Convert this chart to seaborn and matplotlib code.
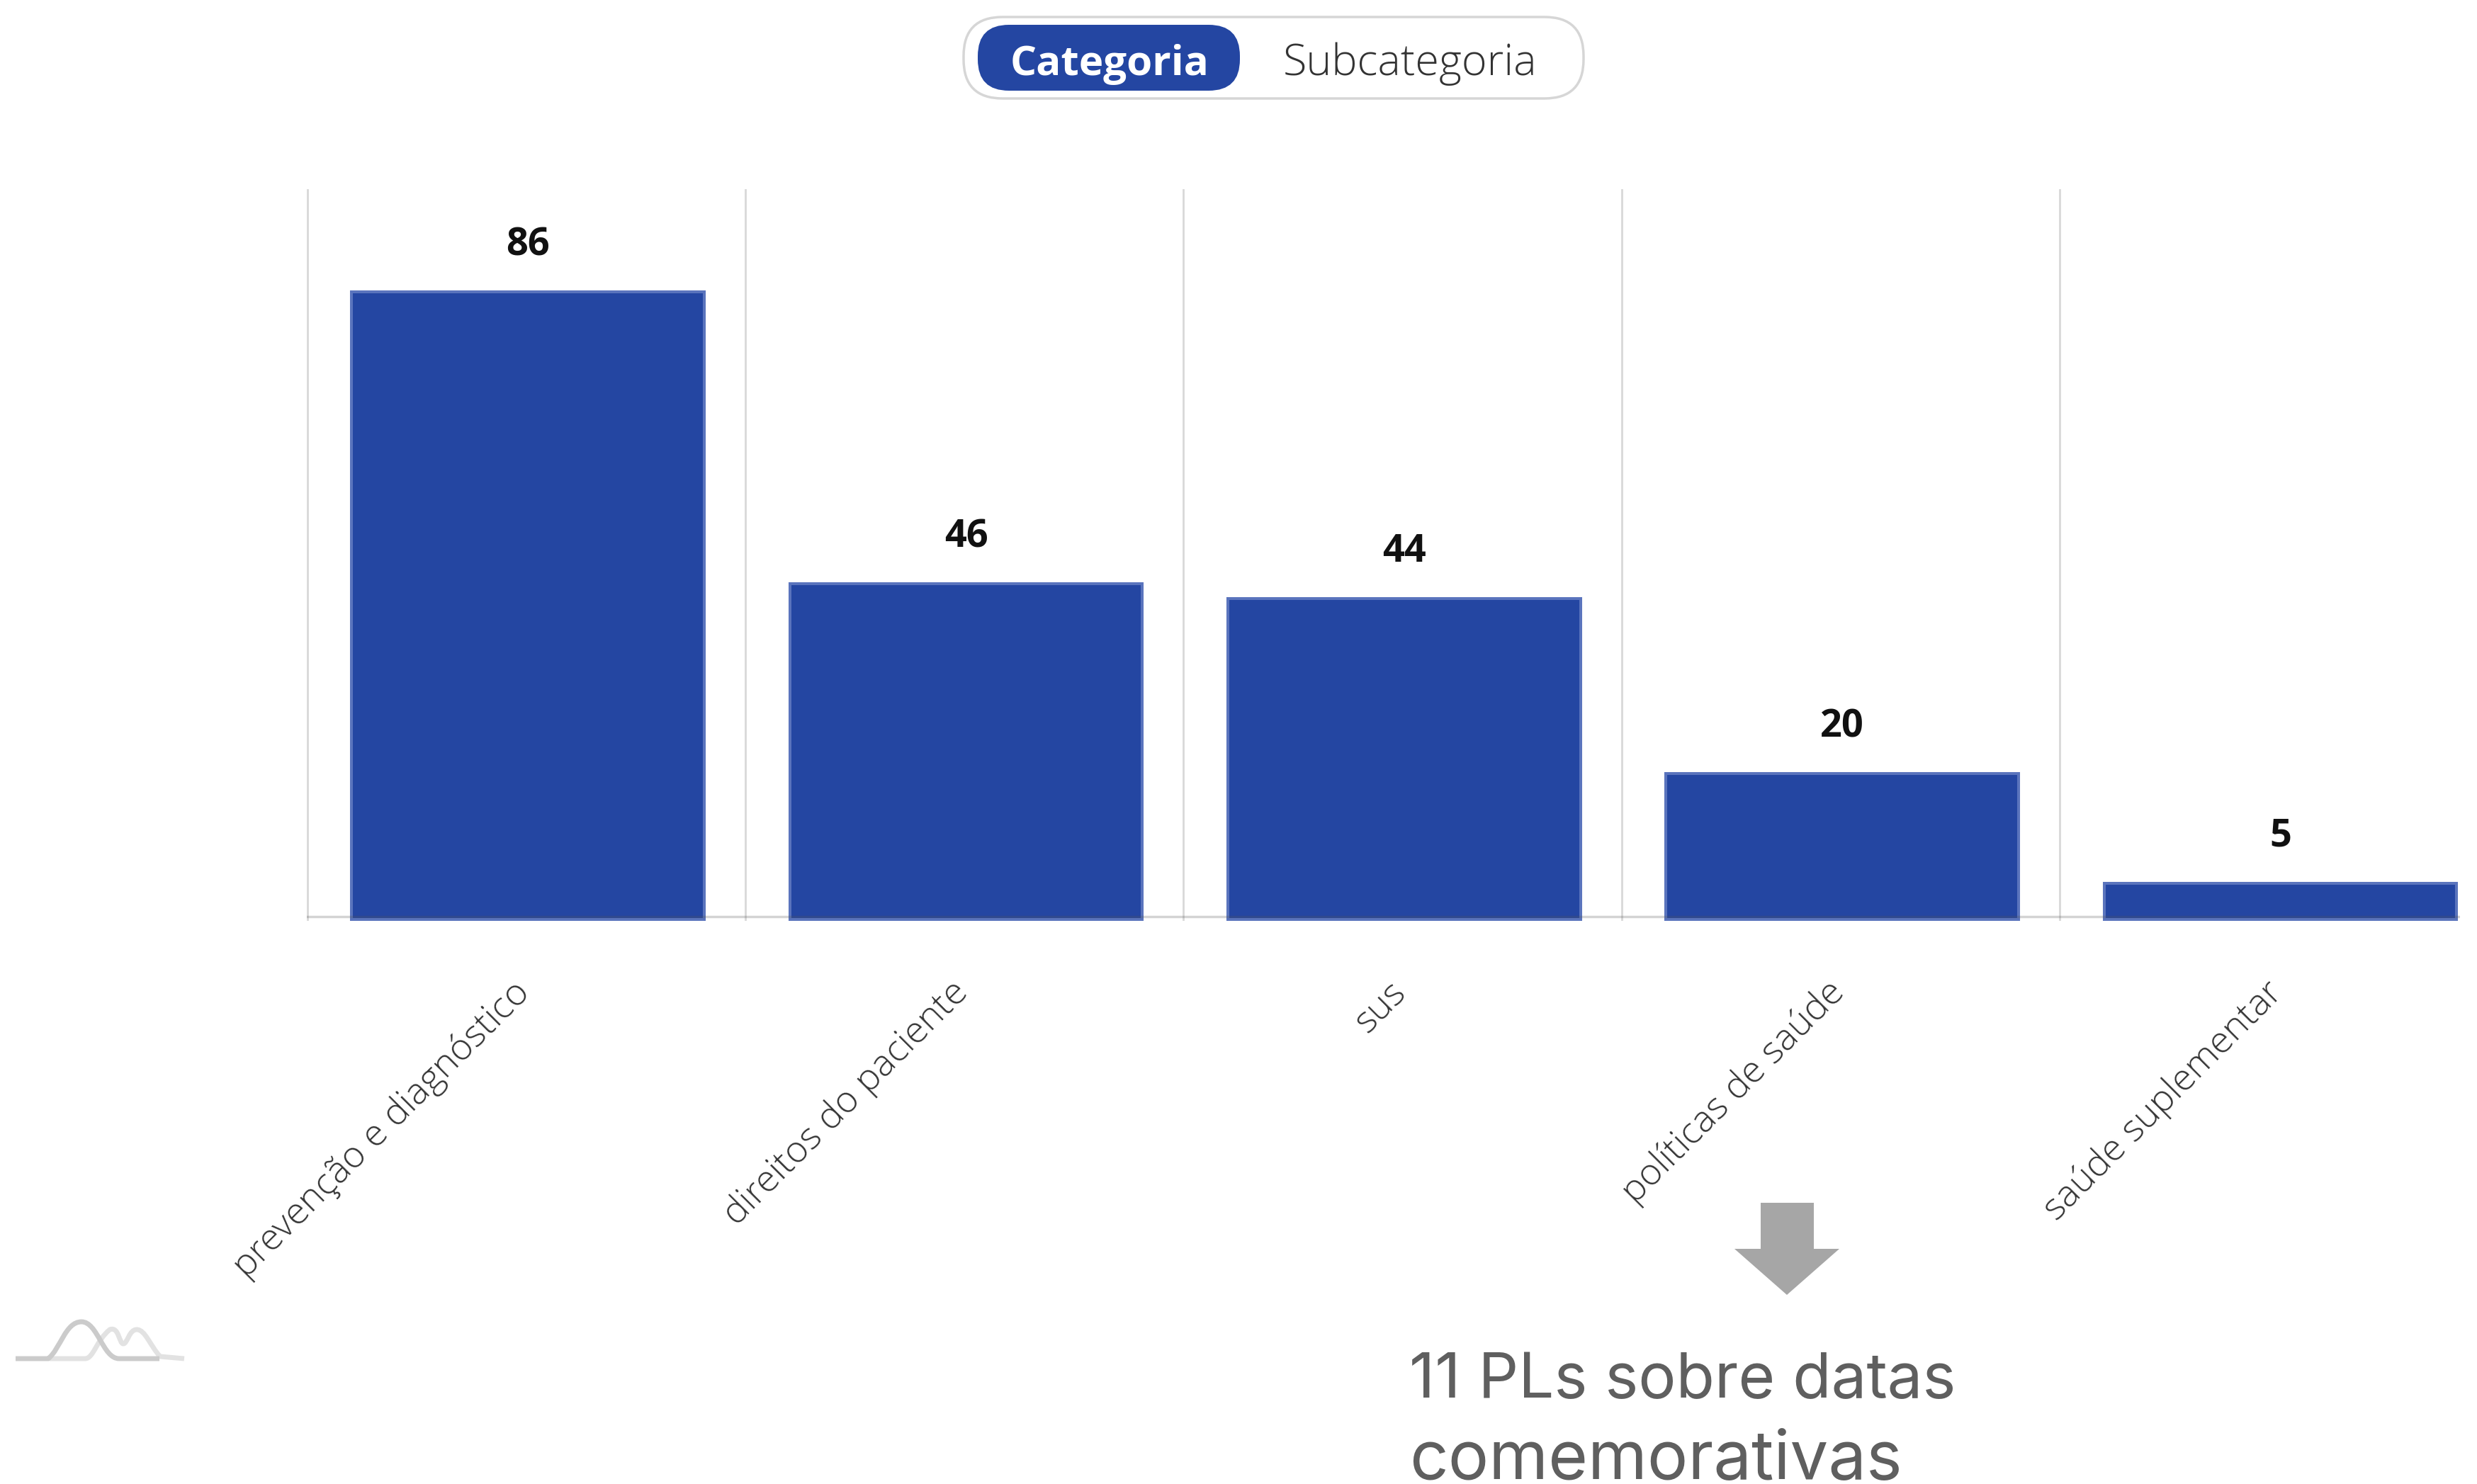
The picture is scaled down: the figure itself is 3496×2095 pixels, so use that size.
import matplotlib
matplotlib.use('Agg')
import matplotlib.pyplot as plt
import numpy as np
import pandas as pd
import seaborn as sns
from matplotlib.patches import FancyBboxPatch, PathPatch, Polygon
from matplotlib.path import Path
from matplotlib.transforms import ScaledTranslation

categorias = ['prevenção e diagnóstico', 'direitos do paciente', 'sus', 'políticas de saúde', 'saúde suplementar']
valores = [86, 46, 44, 20, 5]

AZUL = '#2446a2'
W, H = 3496, 2095

sns.set_theme(style='white')
plt.rcParams['font.family'] = ['Open Sans', 'DejaVu Sans']

df = pd.DataFrame({'categoria': categorias, 'valor': valores})

fig = plt.figure(figsize=(W / 100, H / 100), dpi=100, facecolor='white')
ax = fig.add_axes([433 / W, 1 - 1300 / H, (3472 - 433) / W, (1300 - 267) / H])

sns.barplot(data=df, x='categoria', y='valor', color=AZUL, saturation=1, width=0.805,
            edgecolor='#5a74bd', linewidth=2.9, ax=ax, zorder=3)

ax.set_xlim(-0.505, 4.41)
ax.set_ylim(-0.19, 100.1)
ax.set_xlabel('')
ax.set_ylabel('')
ax.set_yticks([])
sns.despine(ax=ax, left=True, bottom=True)

# linhas verticais entre as categorias
ax.set_xticks(np.arange(-0.5, 4) - 0.004, minor=True)
ax.grid(axis='x', which='minor', color='#d8d8d8', linewidth=2)
ax.tick_params(axis='x', which='both', length=0)
ax.axhline(0.4, color='#555555', alpha=0.25, linewidth=2.5, zorder=4)

ax.bar_label(ax.containers[0], labels=[str(v) for v in valores], padding=28,
             fontsize=39, fontweight='bold', color='#111111')

ax.set_xticks(range(len(categorias)))
ax.set_xticklabels(categorias, rotation=45, ha='right', rotation_mode='anchor',
                   fontsize=37.6, fontweight='light', color='#333333')
ax.tick_params(axis='x', which='major', pad=54)
desloca = ScaledTranslation(-23 / 100, 0, fig.dpi_scale_trans)
for rotulo in ax.get_xticklabels():
    rotulo.set_transform(rotulo.get_transform() + desloca)

# camada em pixels para o botao, seta, logo e nota
ov = fig.add_axes([0, 0, 1, 1], facecolor='none')
ov.set_xlim(0, W)
ov.set_ylim(H, 0)
ov.axis('off')

ov.add_patch(FancyBboxPatch((1360, 24), 875, 115, boxstyle='round,pad=0,rounding_size=55',
                            facecolor='white', edgecolor='#d6d6d6', linewidth=2.5))
ov.add_patch(FancyBboxPatch((1380, 35), 370, 93, boxstyle='round,pad=0,rounding_size=44',
                            facecolor=AZUL, edgecolor='none'))
ov.text(1566, 106, 'Categoria', color='white', fontsize=42, fontweight='bold', ha='center', va='baseline')
ov.text(1990, 106, 'Subcategoria', color='#333333', fontsize=44, fontweight='light', ha='center', va='baseline')

# seta
ov.add_patch(Polygon([(2485, 1698), (2560, 1698), (2560, 1763), (2596, 1763), (2522, 1828),
                      (2448, 1763), (2485, 1763)], closed=True, facecolor='#a6a6a6', edgecolor='none'))

ov.text(1989, 1973, '11 PLs sobre datas', color='#5f5f5f', fontsize=64, family='Inter', va='baseline')
ov.text(1989, 2088, 'comemorativas', color='#5f5f5f', fontsize=69, family='Inter', va='baseline')

# logo
claro = Path([(70, 1918), (120, 1918), (132, 1918), (136, 1892), (155, 1877), (168, 1872), (168, 1897),
              (174, 1897), (180, 1897), (182, 1877), (193, 1877), (205, 1877), (212, 1900),
              (226, 1915), (260, 1918)],
             [Path.MOVETO, Path.LINETO, Path.CURVE4, Path.CURVE4, Path.CURVE4, Path.CURVE4, Path.CURVE4,
              Path.CURVE4, Path.CURVE4, Path.CURVE4, Path.CURVE4, Path.CURVE4, Path.CURVE4,
              Path.CURVE4, Path.LINETO])
escuro = Path([(22, 1918), (68, 1918), (85, 1905), (92, 1866), (115, 1866), (138, 1866), (145, 1918),
               (168, 1918), (225, 1918)],
              [Path.MOVETO, Path.LINETO, Path.CURVE4, Path.CURVE4, Path.CURVE4, Path.CURVE4, Path.CURVE4,
               Path.CURVE4, Path.LINETO])
ov.add_patch(PathPatch(claro, facecolor='none', edgecolor='#e2e2e2', linewidth=5))
ov.add_patch(PathPatch(escuro, facecolor='none', edgecolor='#cbcbcb', linewidth=5))

fig.savefig('out.png', dpi=100, facecolor='white')
